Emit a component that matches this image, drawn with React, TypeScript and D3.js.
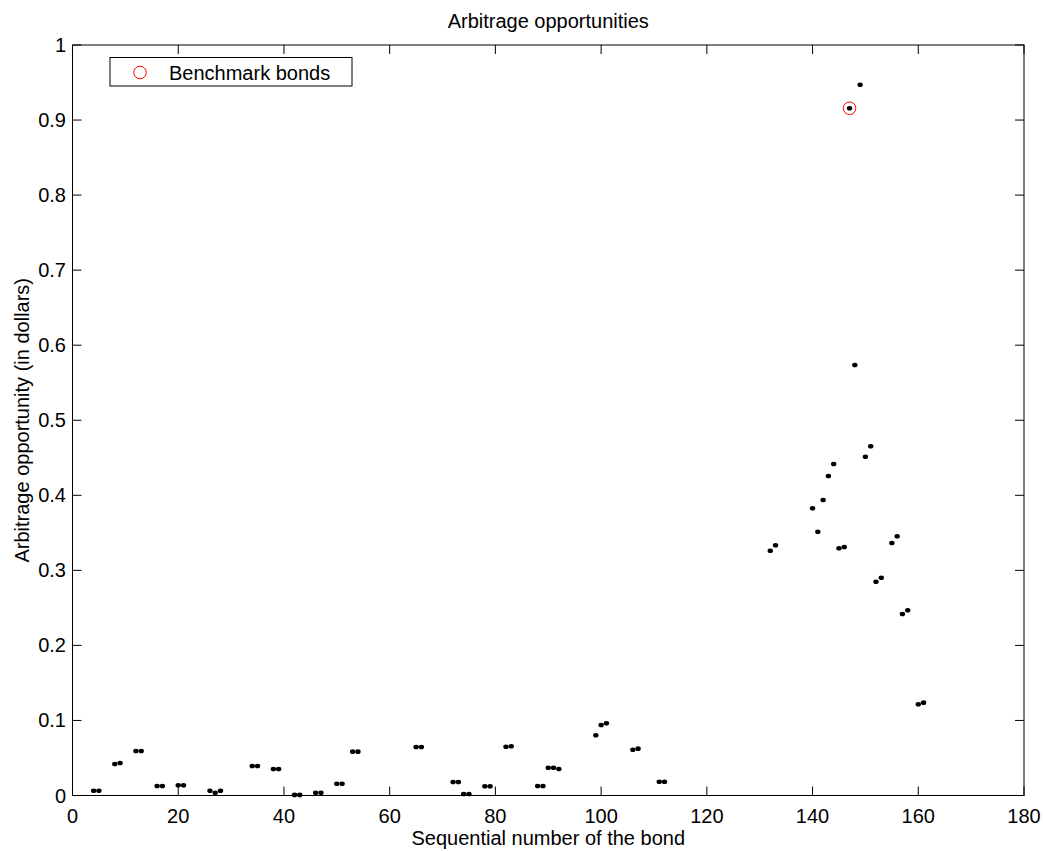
import React from "react";
import * as d3 from "d3";

const bondIndex: number[] = [4,5,8,9,12,13,16,17,20,21,26,27,28,34,35,38,39,42,43,46,47,50,51,53,54,65,66,72,73,74,75,78,79,82,83,88,89,90,91,92,99,100,101,106,107,111,112,132,133,140,141,142,143,144,145,146,147,148,149,150,151,152,153,155,156,157,158,160,161];
const arbitrage: number[] = [0.0064,0.0064,0.042,0.0433,0.0593,0.0593,0.0127,0.0127,0.0136,0.0136,0.0064,0.0037,0.0064,0.0393,0.0393,0.0353,0.0353,0.0008,0.0008,0.0037,0.0037,0.0157,0.0157,0.0584,0.0584,0.0646,0.0646,0.018,0.018,0.002,0.002,0.0123,0.0123,0.065,0.0656,0.0127,0.0127,0.037,0.037,0.0353,0.0802,0.094,0.0962,0.061,0.0624,0.0184,0.0184,0.3262,0.3334,0.3827,0.3515,0.3937,0.4257,0.4417,0.3294,0.3311,0.9157,0.5736,0.9471,0.4514,0.4653,0.2849,0.2902,0.3364,0.3454,0.2418,0.2468,0.1215,0.1237];
const benchmarkIndex: number[] = [147];
const benchmarkValue: number[] = [0.9157];
const xTicks: number[] = [0,20,40,60,80,100,120,140,160,180];
const yTicks: number[] = [0,0.1,0.2,0.3,0.4,0.5,0.6,0.7,0.8,0.9,1];

const W = 1043, H = 851;
const L = 72.5, R = 1024, T = 45, B = 795.5;
const FONT = "'Liberation Sans', Arial, Helvetica, sans-serif";
const FS = 20;

export default function App() {
  const x = d3.scaleLinear().domain([0, 180]).range([L, R]);
  const y = d3.scaleLinear().domain([0, 1]).range([B, T]);
  const tl = 9;
  return (
    <svg width={W} height={H} style={{ position: "absolute", left: 0, top: 0, background: "#fff" }} fontFamily={FONT}>
      <rect x={0} y={0} width={W} height={H} fill="#fff" />
      <text x={(L + R) / 2} y={28} textAnchor="middle" fontSize={FS}>Arbitrage opportunities</text>
      {xTicks.map((t) => (
        <g key={"x" + t}>
          <line x1={x(t)} x2={x(t)} y1={B} y2={B - tl} stroke="#000" />
          <line x1={x(t)} x2={x(t)} y1={T} y2={T + tl} stroke="#000" />
          <text x={x(t)} y={823} textAnchor="middle" fontSize={FS}>{t}</text>
        </g>
      ))}
      {yTicks.map((t) => (
        <g key={"y" + t}>
          <line x1={L} x2={L + tl} y1={y(t)} y2={y(t)} stroke="#000" />
          <line x1={R} x2={R - tl} y1={y(t)} y2={y(t)} stroke="#000" />
          <text x={66} y={y(t) + 7} textAnchor="end" fontSize={FS}>{d3.format("~g")(t)}</text>
        </g>
      ))}
      <rect x={L} y={T} width={R - L} height={B - T} fill="none" stroke="#000" strokeWidth={1} />
      <text x={(L + R) / 2} y={845} textAnchor="middle" fontSize={FS}>Sequential number of the bond</text>
      <text transform={`translate(29, ${(T + B) / 2}) rotate(-90)`} textAnchor="middle" fontSize={FS}>Arbitrage opportunity (in dollars)</text>
      {bondIndex.map((b, i) => (
        <ellipse key={"p" + i} cx={x(b)} cy={y(arbitrage[i])} rx={2.7} ry={2.3} fill="#000" />
      ))}
      {benchmarkIndex.map((b, i) => (
        <circle key={"bm" + i} cx={x(b)} cy={y(benchmarkValue[i])} r={6.3} fill="none" stroke="#ff0000" strokeWidth={1} />
      ))}
      <rect x={110} y={57.5} width={242} height={28.5} fill="#fff" stroke="#000" strokeWidth={1} />
      <circle cx={140} cy={72.5} r={6.3} fill="none" stroke="#ff0000" strokeWidth={1} />
      <text x={169} y={79.5} fontSize={FS}>Benchmark bonds</text>
    </svg>
  );
}
